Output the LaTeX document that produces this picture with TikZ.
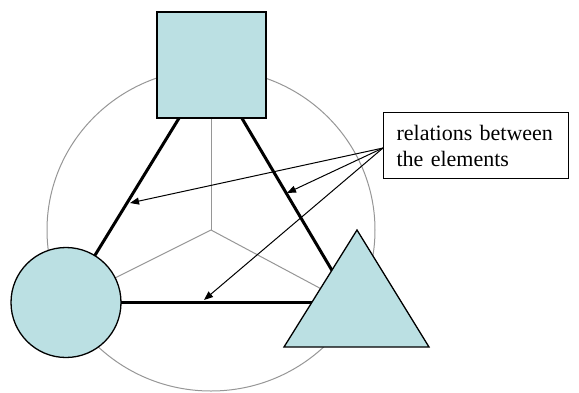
\documentclass[tikz,border=0pt]{standalone}
\usepackage{fontspec}
\setmainfont{Liberation Serif}
\usetikzlibrary{arrows.meta}
\definecolor{shapefill}{RGB}{187,224,227}
\definecolor{guide}{RGB}{150,150,150}
\tikzset{
  guideline/.style={draw=guide, line width=1pt},
  relation/.style={draw=black, line width=3pt},
  element/.style={draw=black, line width=1.3pt, fill=shapefill, inner sep=0pt},
  pointer/.style={draw=black, line width=1pt, -{Triangle[length=9pt,width=7pt]}},
  labelbox/.style={draw=black, line width=1.2pt, fill=white, anchor=north west,
    minimum width=185pt, minimum height=66pt, text width=159pt, inner xsep=13pt,
    align=left, font=\fontsize{22}{26}\selectfont}
}
\begin{document}
\begin{tikzpicture}[x=1pt, y=-1pt]
\useasboundingbox (0,0) rectangle (579,392);
% guide ellipse and spokes
\coordinate (O) at (211,230);
\coordinate (gtop) at (211,69);
\coordinate (gleft) at (66,302.5);
\coordinate (gright) at (357,308);
\draw[guideline] (O) ellipse [x radius=164, y radius=161];
\draw[guideline] (O) -- (gtop);
\draw[guideline] (O) -- (gleft);
\draw[guideline] (O) -- (gright);
% relation triangle
\coordinate (A) at (211,66);
\coordinate (B) at (66,302.5);
\coordinate (C) at (351,302.5);
\draw[relation] (A) -- (B);
\draw[relation] (A) -- (C);
\draw[relation] (B) -- (C);
% elements
\node[element, rectangle, minimum width=109pt, minimum height=106pt] (sq) at (211.5,65) {};
\node[element, circle, minimum size=110pt] (circ) at (66,302.5) {};
\coordinate (t1) at (357,230);
\coordinate (t2) at (429,347);
\coordinate (t3) at (284,347);
\filldraw[element, line join=miter] (t1) -- (t2) -- (t3) -- cycle;
% label box and pointers
\node[labelbox] (box) at (383,112) {relations between the elements};
\coordinate (src) at (383,148);
\coordinate (p1) at (130,203);
\coordinate (p2) at (204,300);
\coordinate (p3) at (287,193);
\draw[pointer] (src) -- (p1);
\draw[pointer] (src) -- (p2);
\draw[pointer] (src) -- (p3);
\end{tikzpicture}
\end{document}
